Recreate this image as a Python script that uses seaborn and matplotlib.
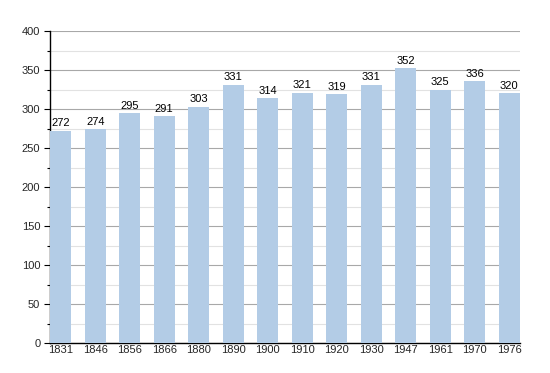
import matplotlib
matplotlib.use("Agg")
import matplotlib.pyplot as plt
import seaborn as sns
import pandas as pd
from matplotlib.ticker import MultipleLocator

years = ["1831", "1846", "1856", "1866", "1880", "1890", "1900", "1910", "1920", "1930", "1947", "1961", "1970", "1976"]
population = [272, 274, 295, 291, 303, 331, 314, 321, 319, 331, 352, 325, 336, 320]

df = pd.DataFrame({"year": years, "pop": population})

sns.set_theme(style="white")
plt.rcParams['font.family'] = ['Liberation Sans', 'DejaVu Sans']

fig = plt.figure(figsize=(5.5, 3.73), dpi=100)
ax = fig.add_axes([50/550, 1-343/373, 470/550, 312/373])

sns.barplot(data=df, x="year", y="pop", color="#b3cce6", saturation=1, width=0.62,
            linewidth=0, ax=ax, zorder=3)

ax.set_ylim(0, 400)
ax.set_xlim(-0.31, len(years) - 1 + 0.31)
ax.yaxis.set_major_locator(MultipleLocator(50))
ax.yaxis.set_minor_locator(MultipleLocator(25))
ax.grid(which="major", axis="y", color="#a8a8a8", linewidth=0.8, zorder=0)
ax.grid(which="minor", axis="y", color="#e2e2e2", linewidth=0.8, zorder=0)
ax.set_axisbelow(True)
for s in ["top", "right"]:
    ax.spines[s].set_visible(False)
ax.spines["left"].set_color("black")
ax.spines["bottom"].set_color("black")
ax.spines["left"].set_linewidth(1)
ax.spines["bottom"].set_linewidth(1)
ax.tick_params(axis="y", which="major", left=True, length=4, width=0.8, color="black", labelsize=8, pad=3)
ax.tick_params(axis="y", which="minor", left=True, length=2, width=0.8, color="black")
ax.tick_params(axis="x", bottom=False, length=0, labelsize=8, pad=1.5)
ax.set_xlabel("")
ax.set_ylabel("")

for i, v in enumerate(population):
    ax.text(i, v + 3, str(v), ha="center", va="bottom", fontsize=8, color="black")

fig.savefig("out.png", dpi=100)
